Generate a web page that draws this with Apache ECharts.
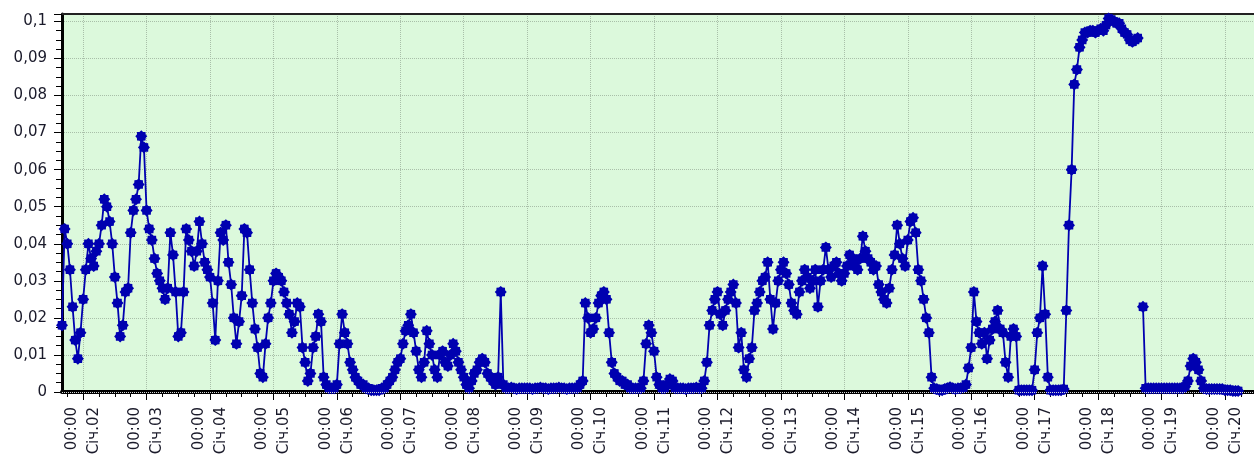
<!DOCTYPE html>
<html>
<head>
<meta charset="utf-8">
<script src="https://cdn.jsdelivr.net/npm/echarts@6/dist/echarts.min.js"></script>
<style>
html,body{margin:0;padding:0;background:#fff;}
#c{width:1254px;height:461px;}
</style>
</head>
<body>
<div id="c"></div>
<script>
// ---- data ----
const startHour = 16;          // first sample: Jan 1, 16:00 (hourly samples)
const monthLabel = 'Січ';
const dayLabels = ['Січ.02','Січ.03','Січ.04','Січ.05','Січ.06','Січ.07','Січ.08','Січ.09','Січ.10','Січ.11',
                   'Січ.12','Січ.13','Січ.14','Січ.15','Січ.16','Січ.17','Січ.18','Січ.19','Січ.20'];
const timeLabel = '00:00';

const jan01 = [0.018,0.044,0.040,0.033,0.023,0.014,0.009,0.016];
const jan02 = [0.025,0.033,0.040,0.036,0.034,0.038,0.040,0.045,0.052,0.050,0.046,0.040,0.031,0.024,0.015,0.018,0.027,0.028,0.043,0.049,0.052,0.056,0.069,0.066];
const jan03 = [0.049,0.044,0.041,0.036,0.032,0.030,0.028,0.025,0.028,0.043,0.037,0.027,0.015,0.016,0.027,0.044,0.041,0.038,0.034,0.038,0.046,0.040,0.035,0.033];
const jan04 = [0.031,0.024,0.014,0.030,0.043,0.041,0.045,0.035,0.029,0.020,0.013,0.019,0.026,0.044,0.043,0.033,0.024,0.017,0.012,0.005,0.004,0.013,0.020,0.024];
const jan05 = [0.030,0.032,0.031,0.030,0.027,0.024,0.021,0.016,0.019,0.024,0.023,0.012,0.008,0.003,0.005,0.012,0.015,0.021,0.019,0.004,0.002,0.001,0.001,0.001];
const jan06 = [0.002,0.013,0.021,0.016,0.013,0.008,0.006,0.004,0.003,0.002,0.002,0.001,0.001,0.0005,0.0005,0.0005,0.0005,0.001,0.001,0.002,0.003,0.004,0.006,0.008];
const jan07 = [0.009,0.013,0.0165,0.018,0.021,0.016,0.011,0.006,0.004,0.008,0.0165,0.013,0.010,0.006,0.004,0.010,0.011,0.008,0.007,0.010,0.013,0.011,0.008,0.006];
const jan08 = [0.004,0.002,0.001,0.003,0.005,0.006,0.008,0.009,0.008,0.005,0.004,0.003,0.002,0.004,0.027,0.002,0.001,0.001,0.0012,0.001,0.0008,0.001,0.001,0.001];
const jan09 = [0.001,0.001,0.0008,0.001,0.001,0.0012,0.001,0.001,0.0008,0.001,0.001,0.001,0.0012,0.001,0.001,0.0008,0.001,0.001,0.001,0.001,0.002,0.003,0.024,0.020];
const jan10 = [0.016,0.017,0.020,0.024,0.026,0.027,0.025,0.016,0.008,0.005,0.004,0.003,0.003,0.002,0.002,0.001,0.001,0.001,0.001,0.001,0.003,0.013,0.018,0.016];
const jan11 = [0.011,0.004,0.002,0.001,0.001,0.002,0.0035,0.003,0.001,0.001,0.001,0.001,0.0008,0.001,0.001,0.001,0.0012,0.001,0.001,0.003,0.008,0.018,0.022,0.025];
const jan12 = [0.027,0.021,0.018,0.022,0.025,0.027,0.029,0.024,0.012,0.016,0.006,0.004,0.009,0.012,0.022,0.024,0.027,0.030,0.031,0.035,0.025,0.017,0.024,0.030];
const jan13 = [0.033,0.035,0.032,0.029,0.024,0.022,0.021,0.027,0.030,0.033,0.031,0.028,0.030,0.033,0.023,0.030,0.033,0.039,0.033,0.031,0.034,0.035,0.032,0.030];
const jan14 = [0.032,0.034,0.037,0.036,0.034,0.033,0.036,0.042,0.038,0.036,0.035,0.033,0.034,0.029,0.027,0.025,0.024,0.028,0.033,0.037,0.045,0.040,0.036,0.034];
const jan15 = [0.041,0.046,0.047,0.043,0.033,0.030,0.025,0.020,0.016,0.004,0.001,0.0008,0.0005,0.0005,0.0008,0.001,0.0013,0.001,0.0008,0.001,0.001,0.0012,0.002,0.0065];
const jan16 = [0.012,0.027,0.019,0.016,0.013,0.016,0.009,0.014,0.017,0.019,0.022,0.017,0.016,0.008,0.004,0.015,0.017,0.015,0.0005,0.0005,0.0005,0.0005,0.0005,0.0005];
const jan17 = [0.006,0.016,0.020,0.034,0.021,0.004,0.0005,0.0005,0.0005,0.0005,0.0005,0.0008,0.022,0.045,0.060,0.083,0.087,0.093,0.095,0.097,0.097,0.0975,0.0975,0.097];
const jan18 = [0.0975,0.098,0.0975,0.099,0.1008,0.1005,0.100,0.0995,0.0995,0.098,0.097,0.0965,0.095,0.0945,0.095,0.0955,null,0.023,0.001,0.001,0.001,0.001,0.001,0.001];
const jan19 = [0.001,0.001,0.001,0.001,0.001,0.001,0.001,0.001,0.001,0.0015,0.003,0.007,0.009,0.008,0.006,0.003,0.001,0.0008,0.0008,0.0008,0.0008,0.0008,0.0008,0.0008];
const jan20 = [0.0005,0.0005,0.0005,0.0003,0.0003,0.0003,null,null,null,null,null,null];

const values = [].concat(jan01,jan02,jan03,jan04,jan05,jan06,jan07,jan08,jan09,jan10,
                         jan11,jan12,jan13,jan14,jan15,jan16,jan17,jan18,jan19,jan20);

// ---- helpers ----
const pad = n => (n < 10 ? '0' : '') + n;
const hourOf = i => startHour + i;
const categories = values.map((_, i) => {
  const h = hourOf(i);
  return pad(h % 24) + ':00 ' + monthLabel + '.' + pad(1 + Math.floor(h / 24));
});
const isDay = i => hourOf(i) % 24 === 0;
const isQuarter = i => hourOf(i) % 6 === 0;
const dayLabelAt = i => timeLabel + '\n' + dayLabels[Math.floor(hourOf(i) / 24) - 1];

const star = 'path://M0,-10L3,-7.3L7.07,-7.07L7.3,-3L10,0L7.3,3L7.07,7.07L3,7.3L0,10L-3,7.3L-7.07,7.07L-7.3,3L-10,0L-7.3,-3L-7.07,-7.07L-3,-7.3Z';
const blue = '#0000b0';
const gridColor = '#a9bfa9';
const font = 'DejaVu Sans, Verdana, sans-serif';
const textColor = '#1a1a2a';

const chart = echarts.init(document.getElementById('c'), null, {renderer: 'canvas'});
chart.setOption({
  animation: false,
  backgroundColor: '#ffffff',
  grid: {left: 62, right: 0, top: 14, bottom: 69, show: true, backgroundColor: '#dcf9dc', borderWidth: 0,
         containLabel: false, outerBoundsMode: 'none'},
  xAxis: [
    {
      type: 'category', data: categories, boundaryGap: false, position: 'bottom',
      axisLine: {show: true, onZero: false, lineStyle: {color: '#000', width: 4}},
      axisTick: {show: true, interval: (i) => isQuarter(i) && !isDay(i), length: 5, lineStyle: {color: '#000', width: 1}},
      axisLabel: {show: false},
      splitLine: {show: true, interval: (i) => isDay(i), lineStyle: {color: gridColor, type: 'dotted', width: 1}}
    },
    {
      type: 'category', data: categories, boundaryGap: false, position: 'bottom',
      axisLine: {show: false, onZero: false},
      axisTick: {show: true, interval: (i) => isDay(i), length: 8, lineStyle: {color: '#000', width: 1}},
      axisLabel: {
        show: true, interval: (i) => isDay(i), rotate: 90, margin: 15,
        fontFamily: font, fontSize: 15, color: textColor, lineHeight: 22,
        padding: [0, 0, 7, 0],
        formatter: (v, i) => dayLabelAt(i)
      },
      splitLine: {show: false}
    },
    {
      type: 'category', data: categories, boundaryGap: false, position: 'top',
      axisLine: {show: true, onZero: false, lineStyle: {color: '#222', width: 2}},
      axisTick: {show: false}, axisLabel: {show: false}, splitLine: {show: false}
    }
  ],
  yAxis: {
    type: 'value', min: 0, max: 0.102, interval: 0.01,
    axisLine: {show: true, lineStyle: {color: '#000', width: 3}},
    axisTick: {show: true, length: 8, lineStyle: {color: '#000', width: 1}},
    minorTick: {show: true, splitNumber: 4, length: 6, lineStyle: {color: '#000', width: 1}},
    axisLabel: {
      show: true, margin: 15, fontFamily: font, fontSize: 15, color: textColor, showMaxLabel: false,
      formatter: v => {
        const k = Math.round(v * 100);
        if (Math.abs(v * 100 - k) > 1e-6) return '';
        return String(k / 100).replace('.', ',');
      }
    },
    splitLine: {show: true, lineStyle: {color: gridColor, type: 'dotted', width: 1}}
  },
  series: [
    {
      type: 'line', xAxisIndex: 0, data: [], z: 1, silent: true,
      markLine: {silent: true, symbol: 'none', label: {show: false},
        lineStyle: {color: '#d8d8d8', type: 'dotted', width: 1}, data: [{yAxis: 0}]}
    },
    {
      type: 'line', xAxisIndex: 0, data: values, z: 3,
      connectNulls: false, showAllSymbol: true,
      symbol: star, symbolSize: 12,
      itemStyle: {color: blue},
      lineStyle: {color: blue, width: 1.8}
    }
  ]
});
</script>
</body>
</html>
